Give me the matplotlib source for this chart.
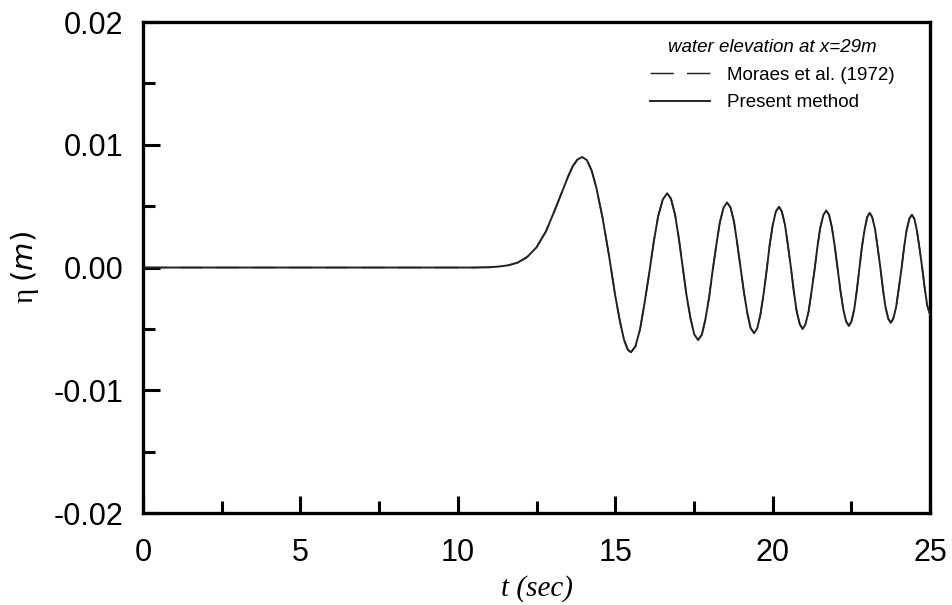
import matplotlib
matplotlib.use("Agg")
import matplotlib.pyplot as plt
from matplotlib.ticker import MultipleLocator, FormatStrFormatter

# Water surface elevation at x = 29 m (time in s, elevation in mm)
t_sec = [
    0.0, 10.5, 11.0, 11.3, 11.6, 11.9, 12.2, 12.5, 12.8, 13.1, 13.3, 13.5,
    13.65, 13.8, 13.95, 14.1, 14.25, 14.4, 14.6, 14.8, 15.0, 15.15, 15.28,
    15.4, 15.5,
    15.64, 15.79, 15.93, 16.08, 16.22, 16.36, 16.51, 16.65,
    16.77, 16.90, 17.02, 17.14, 17.26, 17.39, 17.51, 17.63,
    17.75, 17.86, 17.98, 18.09, 18.21, 18.32, 18.44, 18.55,
    18.66, 18.77, 18.87, 18.98, 19.09, 19.20, 19.30, 19.41,
    19.51, 19.61, 19.71, 19.81, 19.90, 20.00, 20.10, 20.20,
    20.29, 20.39, 20.48, 20.58, 20.67, 20.76, 20.86, 20.95,
    21.04, 21.14, 21.23, 21.33, 21.42, 21.51, 21.61, 21.70,
    21.79, 21.88, 21.97, 22.06, 22.15, 22.24, 22.33, 22.42,
    22.50, 22.59, 22.67, 22.75, 22.83, 22.92, 23.00, 23.08,
    23.16, 23.25, 23.33, 23.42, 23.50, 23.58, 23.67, 23.75,
    23.83, 23.92, 24.00, 24.09, 24.17, 24.25, 24.34, 24.42,
    24.50, 24.58, 24.66, 24.75, 24.83, 24.91, 25.0,
]
eta_mm = [
    0.0, 0.0, 0.02, 0.08, 0.18, 0.40, 0.85, 1.65, 2.95, 4.80, 6.10, 7.40,
    8.25, 8.80, 9.00, 8.75, 7.90, 6.50, 4.00, 1.00, -2.30, -4.40, -5.90,
    -6.70, -6.90,
    -6.43, -5.00, -2.90, -0.43, 2.05, 4.15, 5.55, 6.05,
    5.60, 4.30, 2.36, 0.08, -2.21, -4.15, -5.45, -5.90,
    -5.47, -4.26, -2.44, -0.30, 1.84, 3.66, 4.88, 5.30,
    4.89, 3.76, 2.02, -0.03, -2.07, -3.79, -4.94, -5.35,
    -4.95, -3.84, -2.17, -0.20, 1.77, 3.44, 4.56, 4.95,
    4.57, 3.49, 1.88, -0.03, -1.93, -3.54, -4.62, -5.00,
    -4.63, -3.59, -2.02, -0.18, 1.67, 3.24, 4.28, 4.65,
    4.29, 3.27, 1.75, -0.05, -1.85, -3.37, -4.39, -4.75,
    -4.40, -3.40, -1.91, -0.15, 1.61, 3.10, 4.10, 4.45,
    4.11, 3.14, 1.69, -0.03, -1.74, -3.19, -4.16, -4.50,
    -4.17, -3.22, -1.78, -0.10, 1.58, 3.01, 3.97, 4.30,
    3.97, 3.02, 1.62, -0.05, -1.72, -3.12, -3.85,
]

present_eta = [v / 1000.0 for v in eta_mm]
moraes_eta = [v / 1000.0 for v in eta_mm]

legend_title = "water elevation at x=29m"
series_labels = ["Moraes et al. (1972)", "Present method"]
x_ticks = [0, 5, 10, 15, 20, 25]
y_ticks = [-0.02, -0.01, 0.0, 0.01, 0.02]

fig = plt.figure(figsize=(9.53, 6.05), dpi=100)
ax = fig.add_axes([0.150, 0.152, 0.826, 0.8116])

dash = (16.0, 9.0)
ax.plot(t_sec, present_eta, color="#222222", lw=1.4, label=series_labels[1],
        zorder=3, solid_joinstyle="round")
ax.plot(t_sec, moraes_eta, color="#222222", lw=1.05, dashes=dash,
        label=series_labels[0], zorder=4)

ax.set_xlim(0, 25)
ax.set_ylim(-0.02, 0.02)
ax.set_xticks(x_ticks)
ax.set_yticks(y_ticks)
ax.xaxis.set_minor_locator(MultipleLocator(2.5))
ax.yaxis.set_minor_locator(MultipleLocator(0.005))
ax.yaxis.set_major_formatter(FormatStrFormatter("%.2f"))

for s in ax.spines.values():
    s.set_linewidth(2.4)
    s.set_color("black")

ax.tick_params(which="both", direction="in", width=2.2, color="black",
               labelsize=22, top=False, right=False)
ax.tick_params(which="major", length=12.5)
ax.tick_params(which="minor", length=8.5)
ax.tick_params(axis="x", which="major", pad=18)
ax.tick_params(axis="y", which="major", pad=14)
for lab in ax.get_xticklabels() + ax.get_yticklabels():
    lab.set_fontfamily("Liberation Sans")

ax.set_xlabel("t (sec)", fontfamily="Liberation Serif", fontstyle="italic",
              fontsize=21, labelpad=5)
ax.set_ylabel(r"η $\mathit{(m)}$", fontfamily="Liberation Serif",
              fontsize=21, labelpad=9)

handles, labels = ax.get_legend_handles_labels()
order = [1, 0]
leg = ax.legend([handles[i] for i in order], [labels[i] for i in order],
                title=legend_title, loc="upper right",
                bbox_to_anchor=(0.955, 0.965), frameon=False,
                prop={"family": "Liberation Sans", "size": 13.5},
                title_fontproperties={"family": "Liberation Sans",
                                      "style": "italic", "size": 13.5},
                handlelength=3.2, handletextpad=0.9, labelspacing=0.55,
                borderaxespad=0, borderpad=0)

fig.savefig("out.png", dpi=100, facecolor="white")
